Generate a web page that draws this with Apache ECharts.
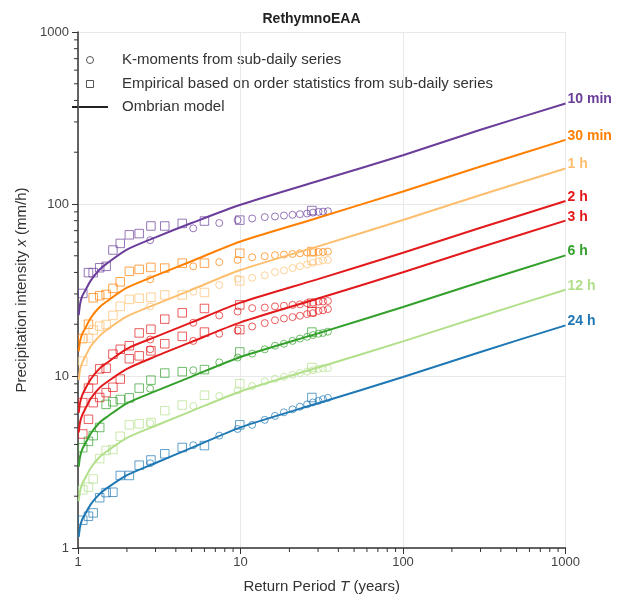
<!DOCTYPE html>
<html>
<head>
<meta charset="utf-8">
<script src="https://cdn.jsdelivr.net/npm/echarts@6/dist/echarts.min.js"></script>
<style>
  html, body { margin: 0; padding: 0; background: #fff; }
  #chart { width: 623px; height: 599px; }
</style>
</head>
<body>
<div id="chart"></div>
<script>
// Return periods (years) at which each curve / marker set is given
const T_MODEL = [1.01, 1.03, 1.06, 1.1, 1.2, 1.35, 1.5, 2, 3, 5, 10, 30, 100, 300, 1000];
const T_KMOMENTS = [2.78, 5.12, 7.4, 9.6, 11.8, 14.1, 16.3, 18.5, 20.9, 23.2, 25.7, 27.9, 30.2, 32.2, 34.5];
const T_EMPIRICAL = [1.07, 1.16, 1.24, 1.36, 1.49, 1.64, 1.82, 2.07, 2.38, 2.81, 3.42, 4.38, 6.0, 9.9, 27.5];

const DURATIONS = ['10 min', '30 min', '1 h', '2 h', '3 h', '6 h', '12 h', '24 h'];

// Ombrian model intensities (mm/h) at T_MODEL
const MODEL_10MIN = [22.6, 26.2, 29.0, 31.0, 36.0, 41.3, 45.0, 54.3, 64.0, 77.5, 99.0, 136, 192, 270, 384];
const MODEL_30MIN = [13.9, 16.0, 17.5, 18.7, 21.8, 25.0, 27.1, 32.6, 38.3, 46.5, 60.5, 83.2, 118.3, 165.2, 236];
const MODEL_1H = [9.5, 10.9, 11.9, 12.8, 14.9, 17.0, 18.5, 22.2, 26.1, 31.7, 41.3, 56.7, 80.7, 112.7, 161];
const MODEL_2H = [6.1, 7.0, 7.7, 8.3, 9.6, 11.0, 11.9, 14.4, 16.9, 20.5, 26.7, 36.6, 52.1, 72.8, 104];
const MODEL_3H = [4.7, 5.4, 5.9, 6.35, 7.4, 8.5, 9.2, 11.0, 13.0, 15.8, 20.5, 28.2, 40.1, 56.0, 80];
const MODEL_6H = [2.96, 3.40, 3.73, 4.0, 4.64, 5.33, 5.77, 6.94, 8.16, 9.92, 12.9, 17.7, 25.2, 35.2, 50.3];
const MODEL_12H = [1.87, 2.14, 2.35, 2.52, 2.93, 3.36, 3.64, 4.37, 5.14, 6.25, 8.13, 11.2, 15.9, 22.2, 31.7];
const MODEL_24H = [1.16, 1.33, 1.46, 1.56, 1.80, 2.05, 2.22, 2.65, 3.12, 3.82, 5.03, 6.94, 9.87, 13.8, 19.7];

// K-moment estimates (mm/h) at T_KMOMENTS
const KMOM_10MIN = [61.6, 72.2, 77.5, 80.6, 82.4, 83.9, 84.6, 85.7, 86.5, 87.3, 88.0, 89.1, 90.0, 90.3, 90.8];
const KMOM_30MIN = [36.5, 43.4, 45.9, 47.3, 49.0, 49.7, 50.4, 50.8, 51.2, 51.7, 52.2, 52.4, 52.6, 52.6, 52.9];
const KMOM_1H = [25.4, 30.9, 33.8, 36.8, 37.2, 38.5, 40.2, 41.1, 42.4, 43.5, 44.5, 45.5, 46.3, 47.0, 47.3];
const KMOM_2H = [16.3, 20.4, 22.5, 23.7, 24.8, 25.0, 25.4, 25.6, 25.9, 26.1, 26.5, 26.7, 27.1, 27.1, 27.3];
const KMOM_3H = [14.3, 16.0, 17.6, 18.4, 19.4, 20.3, 21.1, 21.6, 22.0, 22.4, 22.9, 23.2, 23.9, 24.1, 24.5];
const KMOM_6H = [8.45, 10.8, 12.0, 12.8, 13.5, 14.3, 15.0, 15.4, 16.0, 16.5, 16.9, 17.3, 17.6, 17.8, 18.1];
const KMOM_12H = [5.32, 6.7, 7.66, 8.26, 8.74, 9.3, 9.64, 9.9, 10.16, 10.4, 10.6, 10.8, 11.0, 11.1, 11.1];
const KMOM_24H = [3.11, 3.96, 4.5, 4.92, 5.2, 5.56, 5.86, 6.15, 6.4, 6.63, 6.84, 7.02, 7.17, 7.33, 7.46];

// Empirical (order statistics) intensities (mm/h) at T_EMPIRICAL
const EMP_10MIN = [30.2, 39.9, 39.9, 42.6, 43.4, 54.0, 59.0, 66.2, 67.3, 74.5, 74.5, 77.1, 79.6, 80.6, 91.6];
const EMP_30MIN = [16.5, 20.0, 28.5, 29.3, 29.8, 32.3, 35.3, 40.6, 41.7, 42.8, 42.4, 45.3, 45.3, 51.7, 52.9];
const EMP_1H = [12.2, 16.6, 18.5, 19.5, 19.9, 22.5, 25.4, 27.9, 28.3, 28.7, 29.6, 29.6, 30.6, 35.7, 47.1];
const EMP_2H = [7.0, 8.5, 9.5, 11.0, 11.1, 13.4, 14.3, 15.0, 17.8, 18.7, 21.4, 23.3, 24.7, 25.9, 26.5];
const EMP_3H = [4.6, 5.6, 7.0, 7.5, 8.0, 8.6, 9.6, 12.6, 13.1, 14.0, 15.4, 17.0, 18.0, 18.6, 23.7];
const EMP_6H = [3.83, 4.17, 4.5, 5.02, 6.84, 7.08, 7.3, 7.46, 8.5, 9.46, 10.4, 10.6, 10.9, 13.8, 18.0];
const EMP_12H = [2.18, 2.26, 2.52, 3.31, 3.69, 3.74, 4.46, 5.2, 5.27, 5.36, 6.29, 6.78, 7.73, 9.02, 11.2];
const EMP_24H = [1.45, 1.53, 1.60, 1.96, 2.10, 2.11, 2.64, 2.64, 3.03, 3.25, 3.53, 3.84, 3.94, 5.2, 7.5];

// Axis decorations
const MINOR_TICKS = [2, 3, 4, 5, 6, 7, 8, 9, 20, 30, 40, 50, 60, 70, 80, 90, 200, 300, 400, 500, 600, 700, 800, 900];

const LEGEND_TEXTS = [
  'K-moments from sub-daily series',
  'Empirical based on order statistics from sub-daily series',
  'Ombrian model'
];

const MODEL = [MODEL_10MIN, MODEL_30MIN, MODEL_1H, MODEL_2H, MODEL_3H, MODEL_6H, MODEL_12H, MODEL_24H];
const KMOM = [KMOM_10MIN, KMOM_30MIN, KMOM_1H, KMOM_2H, KMOM_3H, KMOM_6H, KMOM_12H, KMOM_24H];
const EMP = [EMP_10MIN, EMP_30MIN, EMP_1H, EMP_2H, EMP_3H, EMP_6H, EMP_12H, EMP_24H];

const COLORS = ['#6a3d9a', '#ff7f00', '#fdbf6f', '#e31a1c', '#e31a1c', '#33a02c', '#b2df8a', '#1f78b4'];

const FONT = '"Liberation Sans", Arial, Helvetica, sans-serif';

const pairs = (xs, ys) => xs.map((x, i) => [x, ys[i]]);

const series = [];

DURATIONS.forEach((name, i) => {
  const c = COLORS[i];
  series.push({
    name: name,
    type: 'line',
    data: pairs(T_MODEL, MODEL[i]),
    showSymbol: false,
    symbol: 'none',
    smooth: 0.25,
    z: 3,
    lineStyle: { color: c, width: 2 },
    itemStyle: { color: c },
    endLabel: {
      show: true,
      formatter: name,
      color: c,
      fontFamily: FONT,
      fontWeight: 'bold',
      fontSize: 14,
      distance: 2,
      offset: [0, -4]
    },
    silent: true
  });
  series.push({
    name: name + ' K',
    type: 'scatter',
    data: pairs(T_KMOMENTS, KMOM[i]),
    symbol: 'circle',
    symbolSize: 7,
    z: 2,
    itemStyle: { color: 'rgba(0,0,0,0)', borderColor: c, borderWidth: 1, opacity: 0.7 },
    silent: true
  });
  series.push({
    name: name + ' E',
    type: 'scatter',
    data: pairs(T_EMPIRICAL, EMP[i]),
    symbol: 'rect',
    symbolSize: 8.5,
    z: 2,
    itemStyle: { color: 'rgba(0,0,0,0)', borderColor: c, borderWidth: 1, opacity: 0.7 },
    silent: true
  });
});

// minor ticks on both log axes
series.push({
  type: 'custom',
  silent: true,
  clip: false,
  z: 5,
  data: MINOR_TICKS.map(v => [v]),
  renderItem: function (params, api) {
    const v = api.value(0);
    const px = api.coord([v, 1]);
    const py = api.coord([1, v]);
    const style = { stroke: '#333', lineWidth: 1 };
    return {
      type: 'group',
      children: [
        { type: 'line', shape: { x1: px[0], y1: px[1], x2: px[0], y2: px[1] + 4 }, style: style },
        { type: 'line', shape: { x1: py[0], y1: py[1], x2: py[0] - 4, y2: py[1] }, style: style }
      ]
    };
  }
});

// key in the upper-left corner of the plot
const legendGraphics = [
  { type: 'circle', shape: { cx: 90, cy: 60, r: 3.5 },
    style: { fill: 'none', stroke: '#555', lineWidth: 1 } },
  { type: 'rect', shape: { x: 86.5, y: 80.5, width: 7, height: 7 },
    style: { fill: 'none', stroke: '#555', lineWidth: 1 } },
  { type: 'line', shape: { x1: 72, y1: 107, x2: 108, y2: 107 },
    style: { stroke: '#222', lineWidth: 2 } }
].concat(LEGEND_TEXTS.map((t, i) => ({
  type: 'text',
  x: 122,
  y: [60, 84, 107][i],
  style: { text: t, fill: '#333', font: '15px ' + FONT, textVerticalAlign: 'middle', textAlign: 'left' }
})));

const chart = echarts.init(document.getElementById('chart'), null, { renderer: 'canvas' });

chart.setOption({
  animation: false,
  backgroundColor: '#fff',
  textStyle: { fontFamily: FONT },
  title: {
    text: 'RethymnoEAA',
    left: 'center',
    top: 7,
    textStyle: { fontFamily: FONT, fontSize: 14, fontWeight: 'bold', color: '#222' }
  },
  grid: { left: 78, right: 57.5, top: 32, bottom: 44, containLabel: false },
  graphic: legendGraphics,
  xAxis: {
    type: 'log',
    logBase: 10,
    min: 1,
    max: 1000,
    name: 'Return Period {i|T} (years)',
    nameLocation: 'middle',
    nameGap: 31,
    nameTextStyle: {
      fontFamily: FONT, fontSize: 15, color: '#333',
      rich: { i: { fontStyle: 'italic', fontFamily: FONT, fontSize: 15, color: '#333' } }
    },
    axisLine: { show: true, lineStyle: { color: '#333', width: 1.5 } },
    axisTick: { show: true, length: 6, lineStyle: { color: '#333', width: 1 } },
    axisLabel: { fontFamily: FONT, fontSize: 13, color: '#444', margin: 8, formatter: v => String(v) },
    splitLine: { show: true, lineStyle: { color: '#e8e8e8', width: 1 } }
  },
  yAxis: {
    type: 'log',
    logBase: 10,
    min: 1,
    max: 1000,
    name: 'Precipitation intensity {i|x} (mm/h)',
    nameLocation: 'middle',
    nameGap: 45,
    nameTextStyle: {
      fontFamily: FONT, fontSize: 15, color: '#333',
      rich: { i: { fontStyle: 'italic', fontFamily: FONT, fontSize: 15, color: '#333' } }
    },
    axisLine: { show: true, lineStyle: { color: '#333', width: 1.5 } },
    axisTick: { show: true, length: 6, lineStyle: { color: '#333', width: 1 } },
    axisLabel: { fontFamily: FONT, fontSize: 13, color: '#444', margin: 9, formatter: v => String(v) },
    splitLine: { show: true, lineStyle: { color: '#e8e8e8', width: 1 } }
  },
  series: series
});
</script>
</body>
</html>
